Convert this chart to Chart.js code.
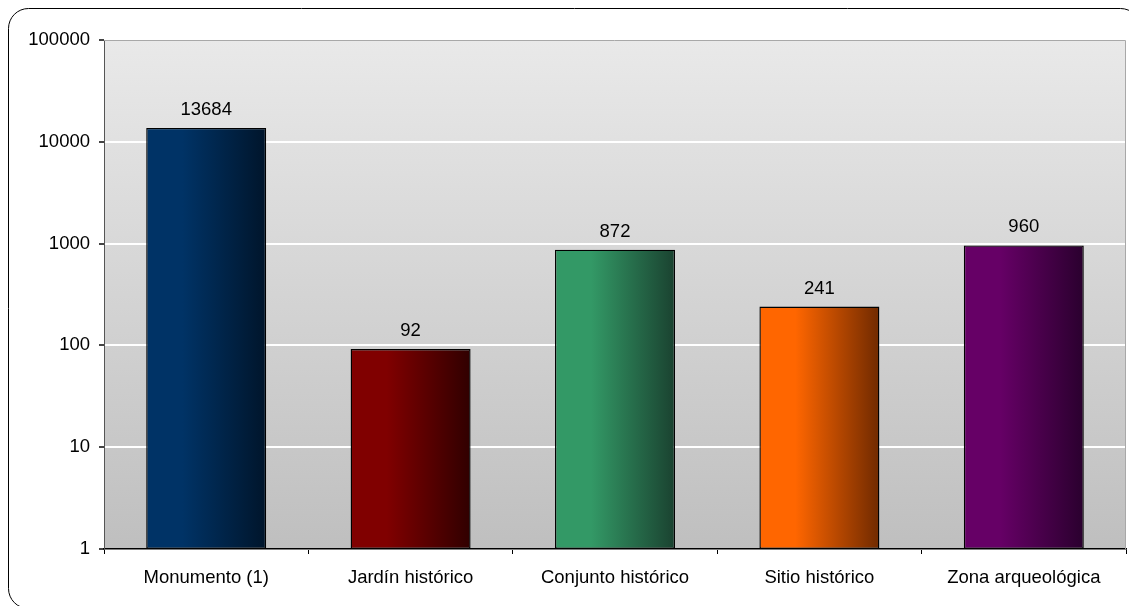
<!DOCTYPE html>
<html>
<head>
<meta charset="utf-8">
<script src="https://cdn.jsdelivr.net/npm/chart.js@4.4.1/dist/chart.umd.min.js"></script>
<style>
  html, body { margin: 0; padding: 0; background: #fff; }
  #wrap { width: 1129px; height: 606px; }
</style>
</head>
<body>
<div id="wrap"><canvas id="bienesChart" width="1129" height="606"></canvas></div>
<script>
const categories = ['Monumento (1)', 'Jardín histórico', 'Conjunto histórico', 'Sitio histórico', 'Zona arqueológica'];
const values = [13684, 92, 872, 241, 960];
const yTicks = [1, 10, 100, 1000, 10000, 100000];
const lightColors = ['#003366', '#800000', '#339966', '#ff6600', '#660066'];
const darkColors = ['#00152b', '#300000', '#1a4230', '#702a00', '#2a002e'];

const barPct = 0.587;
const fontFamily = '"Liberation Sans", Arial, Helvetica, sans-serif';
const fontSize = 18.5;

// degradado horizontal de cada barra (claro a la izquierda, oscuro a la derecha)
function barGradient(ctx) {
  const chart = ctx.chart;
  const i = ctx.dataIndex;
  if (!chart.chartArea || !chart.scales.x) return lightColors[i];
  const xs = chart.scales.x;
  const cx = xs.getPixelForValue(i);
  const half = (xs.width / categories.length) * barPct / 2;
  const g = chart.ctx.createLinearGradient(cx - half, 0, cx + half, 0);
  g.addColorStop(0, lightColors[i]);
  g.addColorStop(0.3, lightColors[i]);
  g.addColorStop(1, darkColors[i]);
  return g;
}

const plotBackground = {
  id: 'plotBackground',
  beforeDraw(chart) {
    const { ctx, chartArea: a } = chart;
    const g = ctx.createLinearGradient(0, a.top, 0, a.bottom);
    g.addColorStop(0, '#e9e9e9');
    g.addColorStop(1, '#bfbfbf');
    ctx.save();
    ctx.fillStyle = g;
    ctx.fillRect(a.left, a.top, a.right - a.left, a.bottom - a.top);
    ctx.restore();
  },
  afterDraw(chart) {
    const { ctx, chartArea: a } = chart;
    ctx.save();
    // borde gris superior y derecho del área de trazado
    ctx.strokeStyle = '#a8a8a8';
    ctx.lineWidth = 1;
    ctx.beginPath();
    ctx.moveTo(a.left, a.top + 0.5);
    ctx.lineTo(a.right - 0.5, a.top + 0.5);
    ctx.lineTo(a.right - 0.5, a.bottom);
    ctx.stroke();
    // marco redondeado exterior
    ctx.strokeStyle = '#000';
    ctx.beginPath();
    ctx.roundRect(8.5, 8.5, 1132, 600, 20);
    ctx.stroke();
    ctx.restore();
  }
};

const valueLabels = {
  id: 'valueLabels',
  afterDatasetsDraw(chart) {
    const { ctx } = chart;
    const meta = chart.getDatasetMeta(0);
    ctx.save();
    ctx.font = fontSize + 'px ' + fontFamily;
    ctx.fillStyle = '#000';
    ctx.textAlign = 'center';
    ctx.textBaseline = 'alphabetic';
    meta.data.forEach((bar, i) => {
      ctx.fillText(String(values[i]), bar.x, bar.y - 13);
    });
    ctx.restore();
  }
};

new Chart(document.getElementById('bienesChart').getContext('2d'), {
  type: 'bar',
  data: {
    labels: categories,
    datasets: [{
      data: values,
      backgroundColor: barGradient,
      borderColor: '#000',
      borderWidth: 1.4,
      borderSkipped: false,
      barPercentage: barPct,
      categoryPercentage: 1
    }]
  },
  options: {
    responsive: false,
    animation: false,
    layout: { padding: { top: 40, right: 3, left: 0, bottom: 0 } },
    plugins: {
      legend: { display: false },
      tooltip: { enabled: false }
    },
    scales: {
      x: {
        afterFit(scale) { scale.height = 57; },
        grid: {
          display: true,
          offset: true,
          drawOnChartArea: false,
          drawTicks: true,
          tickLength: 5,
          tickColor: '#000'
        },
        border: { display: true, color: '#000', width: 1.5 },
        ticks: {
          color: '#000',
          padding: 13,
          maxRotation: 0,
          font: { family: fontFamily, size: fontSize }
        }
      },
      y: {
        type: 'logarithmic',
        min: 1,
        max: 100000,
        afterFit(scale) { scale.width = 104; },
        afterBuildTicks(scale) {
          scale.ticks = yTicks.map(v => ({ value: v }));
        },
        grid: {
          color: '#ffffff',
          lineWidth: 2,
          drawTicks: true,
          tickLength: 5,
          tickColor: '#444'
        },
        border: { display: true, color: '#555', width: 1 },
        ticks: {
          color: '#000',
          padding: 9,
          autoSkip: false,
          font: { family: fontFamily, size: fontSize },
          callback: v => String(v)
        }
      }
    }
  },
  plugins: [plotBackground, valueLabels]
});
</script>
</body>
</html>
